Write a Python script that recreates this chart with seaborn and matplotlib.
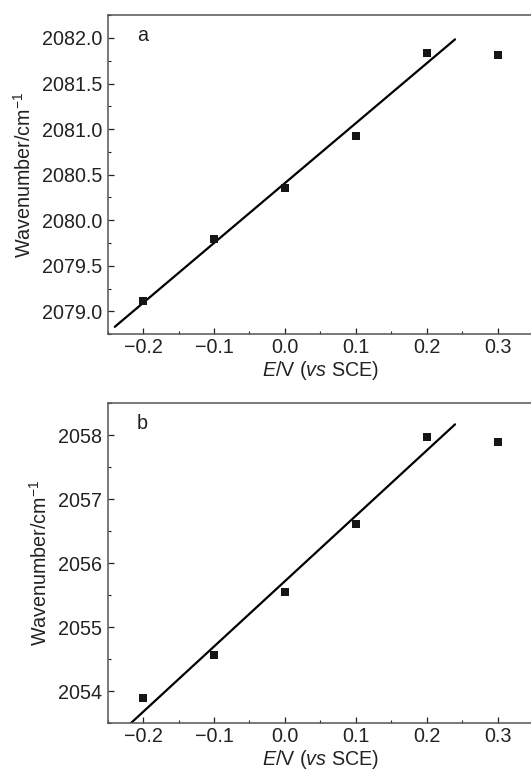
import numpy as np
import pandas as pd
import seaborn as sns
from matplotlib import pyplot as plt
from matplotlib.ticker import MultipleLocator

sns.set_style("white")
plt.rcParams['font.family'] = ['Liberation Sans', 'DejaVu Sans']
plt.rcParams['mathtext.fontset'] = 'custom'
plt.rcParams['mathtext.rm'] = 'Liberation Sans'
plt.rcParams['mathtext.it'] = 'Liberation Sans:italic'

# potentials (V vs SCE)
potential = [-0.2, -0.1, 0.0, 0.1, 0.2, 0.3]
# band positions, panel a and b
wavenumber_a = [2079.12, 2079.80, 2080.35, 2080.93, 2081.84, 2081.81]
wavenumber_b = [2053.89, 2054.56, 2055.55, 2056.62, 2057.97, 2057.89]
# the linear fit uses the first five points only
n_fit = 5
fit_range = [-0.24, 0.24]

FS = 14.2

panels = [
    dict(label="a", y=wavenumber_a, ylim=(2078.75, 2082.25), major=0.5, minor=0.25, fmt="%.1f"),
    dict(label="b", y=wavenumber_b, ylim=(2053.5, 2058.5), major=1.0, minor=0.5, fmt="%.0f"),
]

fig = plt.figure(figsize=(5.31, 7.71), dpi=100)
positions = [[0.2028, 0.5665, 0.8010, 0.4138], [0.2028, 0.0623, 0.8010, 0.4146]]

for pos, p in zip(positions, panels):
    ax = fig.add_axes(pos)
    df = pd.DataFrame({"E": potential, "wn": p["y"]})

    # linear fit over the first points
    slope, icpt = np.polyfit(df["E"][:n_fit], df["wn"][:n_fit], 1)
    fit_df = pd.DataFrame({"E": fit_range, "wn": [slope * x + icpt for x in fit_range]})
    sns.lineplot(data=fit_df, x="E", y="wn", ax=ax, color="black", lw=1.6)
    sns.scatterplot(data=df, x="E", y="wn", ax=ax, marker="s", s=30, color="#151515",
                    linewidth=0, zorder=3)

    ax.set_xlim(-0.25, 0.35)
    ax.set_ylim(*p["ylim"])
    ax.xaxis.set_major_locator(MultipleLocator(0.1))
    ax.xaxis.set_minor_locator(MultipleLocator(0.05))
    ax.yaxis.set_major_locator(MultipleLocator(p["major"]))
    ax.yaxis.set_minor_locator(MultipleLocator(p["minor"]))
    ax.yaxis.set_major_formatter(plt.FormatStrFormatter(p["fmt"]))
    ax.xaxis.set_major_formatter(plt.FuncFormatter(lambda v, _: f"{v:.1f}".replace("-", "\u2212")))
    ax.tick_params(which="both", direction="in", left=True, bottom=True, top=False, right=False,
                   labelsize=FS, colors="#222222")
    ax.tick_params(axis="y", pad=4)
    ax.tick_params(axis="x", pad=3)
    ax.tick_params(which="major", length=4.5, width=0.9)
    ax.tick_params(which="minor", length=2.5, width=0.8)
    for s in ax.spines.values():
        s.set_color("#555555")
        s.set_linewidth(1.1)

    ax.set_xlabel(r"$E$/V ($vs$ SCE)", fontsize=FS, color="#222222", labelpad=1)
    ax.set_ylabel(r"Wavenumber/cm$^{-1}$", fontsize=FS, color="#222222", labelpad=5)
    ax.text(0.082, 0.936, p["label"], transform=ax.transAxes, fontsize=FS,
            color="#222222", ha="center", va="center")

fig.savefig("out.png", dpi=100)
